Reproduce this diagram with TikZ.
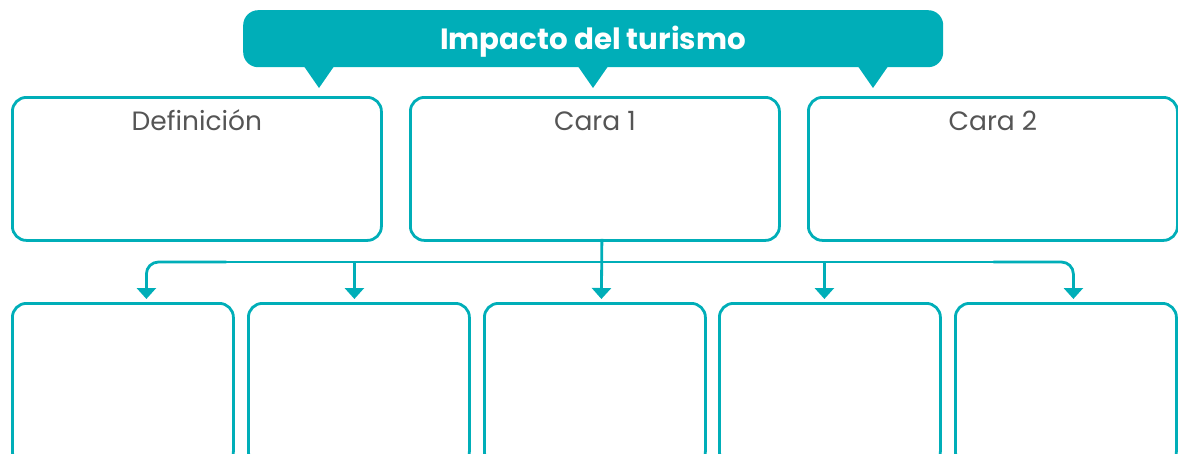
\documentclass[tikz,border=0pt]{standalone}
\usepackage{fontspec}
\setmainfont{Poppins}
\usetikzlibrary{calc,arrows.meta}
\definecolor{teal1}{HTML}{00AEB8}
\definecolor{txtgray}{HTML}{555555}
\tikzset{
  topbox/.style={draw=teal1, line width=2.8pt, rounded corners=14pt, minimum width=369pt, minimum height=143pt, anchor=north west, inner sep=0pt},
  botbox/.style={draw=teal1, line width=2.8pt, rounded corners=14pt, minimum width=221pt, minimum height=162pt, anchor=north west, inner sep=0pt},
  lbl/.style={text=txtgray, font=\fontsize{26.5}{30}\selectfont, anchor=base, inner sep=0pt},
  conn/.style={draw=teal1, line width=2.8pt},
  arr/.style={conn, -{Triangle[width=19pt,length=11pt]}},
}
\begin{document}
\begin{tikzpicture}[x=1pt,y=-1pt]
\useasboundingbox (0,0) rectangle (1178,453);
% title
\node[fill=teal1, rounded corners=15pt, minimum width=700pt, minimum height=57pt, anchor=north west, inner sep=0pt] (title) at (243,10) {};
\foreach \tx in {319,593,873}{
  \fill[teal1] (\tx-18,62) -- (\tx+18,62) -- (\tx,88) -- cycle;
}
\node[text=white, font=\bfseries\fontsize{29.3}{34}\selectfont, anchor=base, inner sep=0pt] (ttxt) at (593,49) {Impacto del turismo};
% top boxes
\node[topbox] (d1) at (11,96) {};
\node[topbox] (d2) at (409,96) {};
\node[topbox] (d3) at (807,96) {};
\node[lbl] (l1) at ($(d1.north)+(0,34)$) {Definición};
\node[lbl] (l2) at ($(d2.north)+(0,34)$) {Cara 1};
\node[lbl] (l3) at ($(d3.north)+(0,34)$) {Cara 2};
% bottom boxes
\node[botbox] (b1) at (11,302) {};
\node[botbox] (b2) at (247,302) {};
\node[botbox] (b3) at (483,302) {};
\node[botbox] (b4) at (718,302) {};
\node[botbox] (b5) at (954,302) {};
% connectors
\coordinate (h1) at ($(b1.north)+(23.5,-40)$);
\coordinate (h5) at ($(b5.north)+(7.5,-40)$);
\draw[conn] ($(h1)+(60,0)$) -- ($(h5)+(-60,0)$);
\draw[arr, rounded corners=12pt] ($(h1)+(80,0)$) -- (h1) -- ($(b1.north)+(23.5,-3)$);
\draw[arr, rounded corners=12pt] ($(h5)+(-80,0)$) -- (h5) -- ($(b5.north)+(7.5,-3)$);
\draw[arr] ($(d2.south)+(7,-3)$) -- ($(b3.north)+(6.5,-3)$);
\draw[arr] ($(b2.north)+(-4.5,-40)$) -- ($(b2.north)+(-4.5,-3)$);
\draw[arr] ($(b4.north)+(-5.5,-40)$) -- ($(b4.north)+(-5.5,-3)$);
\end{tikzpicture}
\end{document}
